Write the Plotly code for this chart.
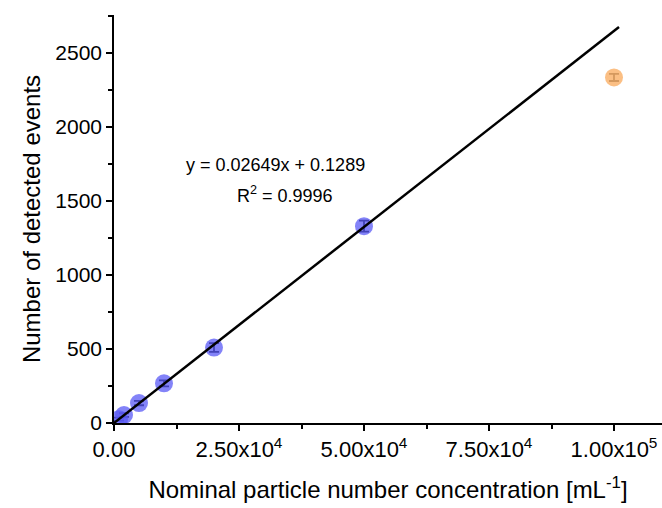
import plotly.graph_objects as go

conc_blue = [1000, 2000, 5000, 10000, 20000, 50000]
events_blue = [26, 54, 135, 268, 510, 1330]
err_blue = [10, 12, 15, 20, 30, 37]
conc_orange = [100000]
events_orange = [2335]
err_orange = [24]
slope = 0.02649
intercept = 0.1289
fit_x = [0, 101000]
xticks = [0, 25000, 50000, 75000, 100000]
xticktext = ["0.00", "2.50x10<sup>4</sup>", "5.00x10<sup>4</sup>", "7.50x10<sup>4</sup>", "1.00x10<sup>5</sup>"]
yticks = [0, 500, 1000, 1500, 2000, 2500]

font = "Liberation Sans, Arial, sans-serif"

fig = go.Figure()
fig.add_trace(go.Scatter(
    x=conc_blue, y=events_blue, mode="markers",
    marker=dict(size=18, color="rgba(90,90,245,0.75)", line=dict(width=0)),
    error_y=dict(type="data", array=err_blue, color="black", thickness=1.8, width=5),
    showlegend=False))
fig.add_trace(go.Scatter(
    x=conc_orange, y=events_orange, mode="markers",
    marker=dict(size=18, color="rgba(250,180,110,0.85)", line=dict(width=0)),
    error_y=dict(type="data", array=err_orange, color="black", thickness=1.8, width=5),
    showlegend=False))
fig.add_trace(go.Scatter(
    x=fit_x, y=[slope * v + intercept for v in fit_x], mode="lines",
    line=dict(color="black", width=2.5), showlegend=False))

fig.add_annotation(x=0.294, y=0.632, xref="paper", yref="paper", xanchor="center", yanchor="middle",
                   text="y = 0.02649x + 0.1289",
                   showarrow=False, font=dict(family=font, size=18, color="black"))
fig.add_annotation(x=0.312, y=0.561, xref="paper", yref="paper", xanchor="center", yanchor="middle",
                   text="R<sup>2</sup> = 0.9996",
                   showarrow=False, font=dict(family=font, size=18, color="black"))

fig.update_layout(
    width=662, height=508,
    margin=dict(l=114, r=0, t=15, b=85),
    plot_bgcolor="white", paper_bgcolor="white",
    font=dict(family=font, color="black"),
    xaxis=dict(range=[0, 109600], tickvals=xticks, ticktext=xticktext,
               showgrid=False, zeroline=False, showline=True, linecolor="black", linewidth=1.5,
               ticks="outside", ticklen=6, tickwidth=1.5, tickcolor="black",
               minor=dict(ticks="outside", ticklen=4, tickwidth=1.5, tickcolor="black", dtick=12500, tick0=0),
               tickfont=dict(size=22, family=font),
               title=dict(text="Nominal particle number concentration [mL<sup>-1</sup>]", font=dict(size=24, family=font), standoff=20)),
    yaxis=dict(range=[0, 2757], tickvals=yticks,
               showgrid=False, zeroline=False, showline=True, linecolor="black", linewidth=1.5,
               ticks="outside", ticklen=6, tickwidth=1.5, tickcolor="black",
               minor=dict(ticks="outside", ticklen=4, tickwidth=1.5, tickcolor="black", dtick=250, tick0=0),
               tickfont=dict(size=21, family=font),
               title=dict(text="Number of detected events", font=dict(size=24, family=font), standoff=8)),
)
fig.write_html("out.html")
